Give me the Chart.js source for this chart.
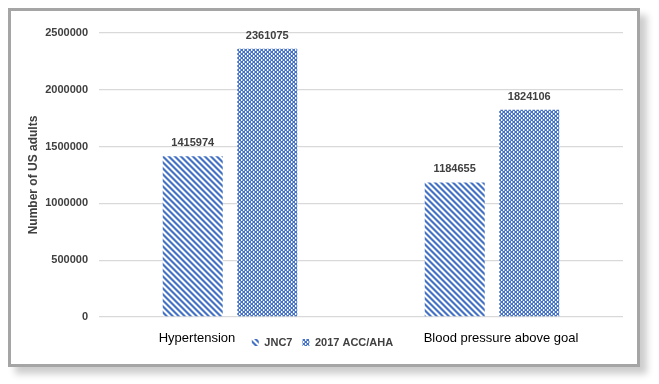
<!DOCTYPE html>
<html lang="en">
<head>
  <meta charset="UTF-8" />
  <title>US adults with hypertension</title>
  <script src="https://cdn.jsdelivr.net/npm/chart.js@4.4.0/dist/chart.umd.min.js"></script>
  <style>
    body {
      margin: 0;
      background: #ffffff;
      font-family: "Liberation Sans", Arial, sans-serif;
    }

    .chart-frame {
      position: absolute;
      left: 8px;
      top: 8px;
      width: 626px;
      height: 353px;
      border: 3px solid #a5a5a5;
      background: #ffffff;
      box-shadow: 7px 7px 7px rgba(0,0,0,0.2);
    }

    canvas {
      display: block;
    }
  </style>
</head>
<body>

  <div class="chart-frame">
    <canvas id="adultsChart" width="626" height="353"></canvas>
  </div>

  <script>
    const categories = ['Hypertension', 'Blood pressure above goal'];
    const seriesNames = ['JNC7', '2017 ACC/AHA'];
    const jnc7Values = [1415974, 1184655];
    const accAhaValues = [2361075, 1824106];
    const yTicks = [0, 500000, 1000000, 1500000, 2000000, 2500000];

    const blue = '#4472c4';
    const textGrey = '#404040';

    // small canvas tiles used as bar fills
    function stripePattern(ctx) {
      const n = 6;
      const tile = document.createElement('canvas');
      tile.width = n; tile.height = n;
      const t = tile.getContext('2d');
      t.fillStyle = '#ffffff';
      t.fillRect(0, 0, n, n);
      for (let y = 0; y < n; y++) {
        for (let x = 0; x < n; x++) {
          const d = ((x - y) % n + n) % n;
          if (d < 2) { t.fillStyle = blue; t.fillRect(x, y, 1, 1); }
          else if (d === 2 || d === 5) { t.fillStyle = '#9fb6e3'; t.fillRect(x, y, 1, 1); }
        }
      }
      return ctx.createPattern(tile, 'repeat');
    }

    function checkerPattern(ctx) {
      const n = 4;
      const tile = document.createElement('canvas');
      tile.width = n; tile.height = n;
      const t = tile.getContext('2d');
      t.fillStyle = '#ffffff';
      t.fillRect(0, 0, n, n);
      t.fillStyle = blue;
      t.fillRect(0, 0, 2, 2);
      t.fillRect(2, 2, 2, 2);
      t.fillStyle = '#8aa5db';
      t.fillRect(3, 0, 1, 2);
      t.fillRect(1, 2, 1, 2);
      return ctx.createPattern(tile, 'repeat');
    }

    const ctx = document.getElementById('adultsChart').getContext('2d');

    // value labels over the bars and the category names under the axis
    const labelPlugin = {
      id: 'labelPlugin',
      afterDatasetsDraw(chart) {
        const c = chart.ctx;
        c.save();
        c.font = 'bold 11px "Liberation Sans", Arial, sans-serif';
        c.fillStyle = textGrey;
        c.textAlign = 'center';
        c.textBaseline = 'middle';
        chart.data.datasets.forEach((ds, i) => {
          chart.getDatasetMeta(i).data.forEach((bar, j) => {
            c.fillText(String(ds.data[j]), bar.x, bar.y - 13);
          });
        });

        const xScale = chart.scales.x;
        const shift = [-33, 9];
        c.font = '13px "Liberation Sans", Arial, sans-serif';
        c.fillStyle = '#000000';
        categories.forEach((name, j) => {
          c.fillText(name, xScale.getPixelForValue(j) + shift[j], chart.chartArea.bottom + 21);
        });
        c.restore();
      }
    };

    const adultsChart = new Chart(ctx, {
      type: 'bar',
      data: {
        labels: categories,
        datasets: [
          {
            label: seriesNames[0],
            data: jnc7Values,
            backgroundColor: stripePattern(ctx),
            borderWidth: 0,
            categoryPercentage: 0.569,
            barPercentage: 0.805
          },
          {
            label: seriesNames[1],
            data: accAhaValues,
            backgroundColor: checkerPattern(ctx),
            borderWidth: 0,
            categoryPercentage: 0.569,
            barPercentage: 0.805
          }
        ]
      },
      options: {
        responsive: false,
        animation: false,
        layout: {
          padding: { left: 11, right: 14, top: 22, bottom: 6 }
        },
        scales: {
          x: {
            offset: true,
            grid: { display: false },
            border: { display: false },
            ticks: { display: false },
            afterFit: (s) => { s.height = 10; }
          },
          y: {
            min: 0,
            max: 2500000,
            afterBuildTicks: (s) => { s.ticks = yTicks.map(v => ({ value: v })); },
            afterFit: (s) => { s.width = 77; },
            border: { display: false },
            grid: { color: '#d9d9d9', lineWidth: 1.3, drawTicks: false },
            ticks: {
              padding: 11,
              color: textGrey,
              font: { family: '"Liberation Sans", Arial, sans-serif', size: 11, weight: 'bold' },
              callback: (v) => String(v)
            },
            title: {
              display: true,
              text: 'Number of US adults',
              color: textGrey,
              padding: 4,
              font: { family: '"Liberation Sans", Arial, sans-serif', size: 12, weight: 'bold' }
            }
          }
        },
        plugins: {
          legend: {
            position: 'bottom',
            labels: {
              boxWidth: 7,
              boxHeight: 7,
              padding: 10,
              color: textGrey,
              font: { family: '"Liberation Sans", Arial, sans-serif', size: 11, weight: 'bold' }
            }
          },
          tooltip: { enabled: false }
        }
      },
      plugins: [labelPlugin]
    });
  </script>

</body>
</html>
